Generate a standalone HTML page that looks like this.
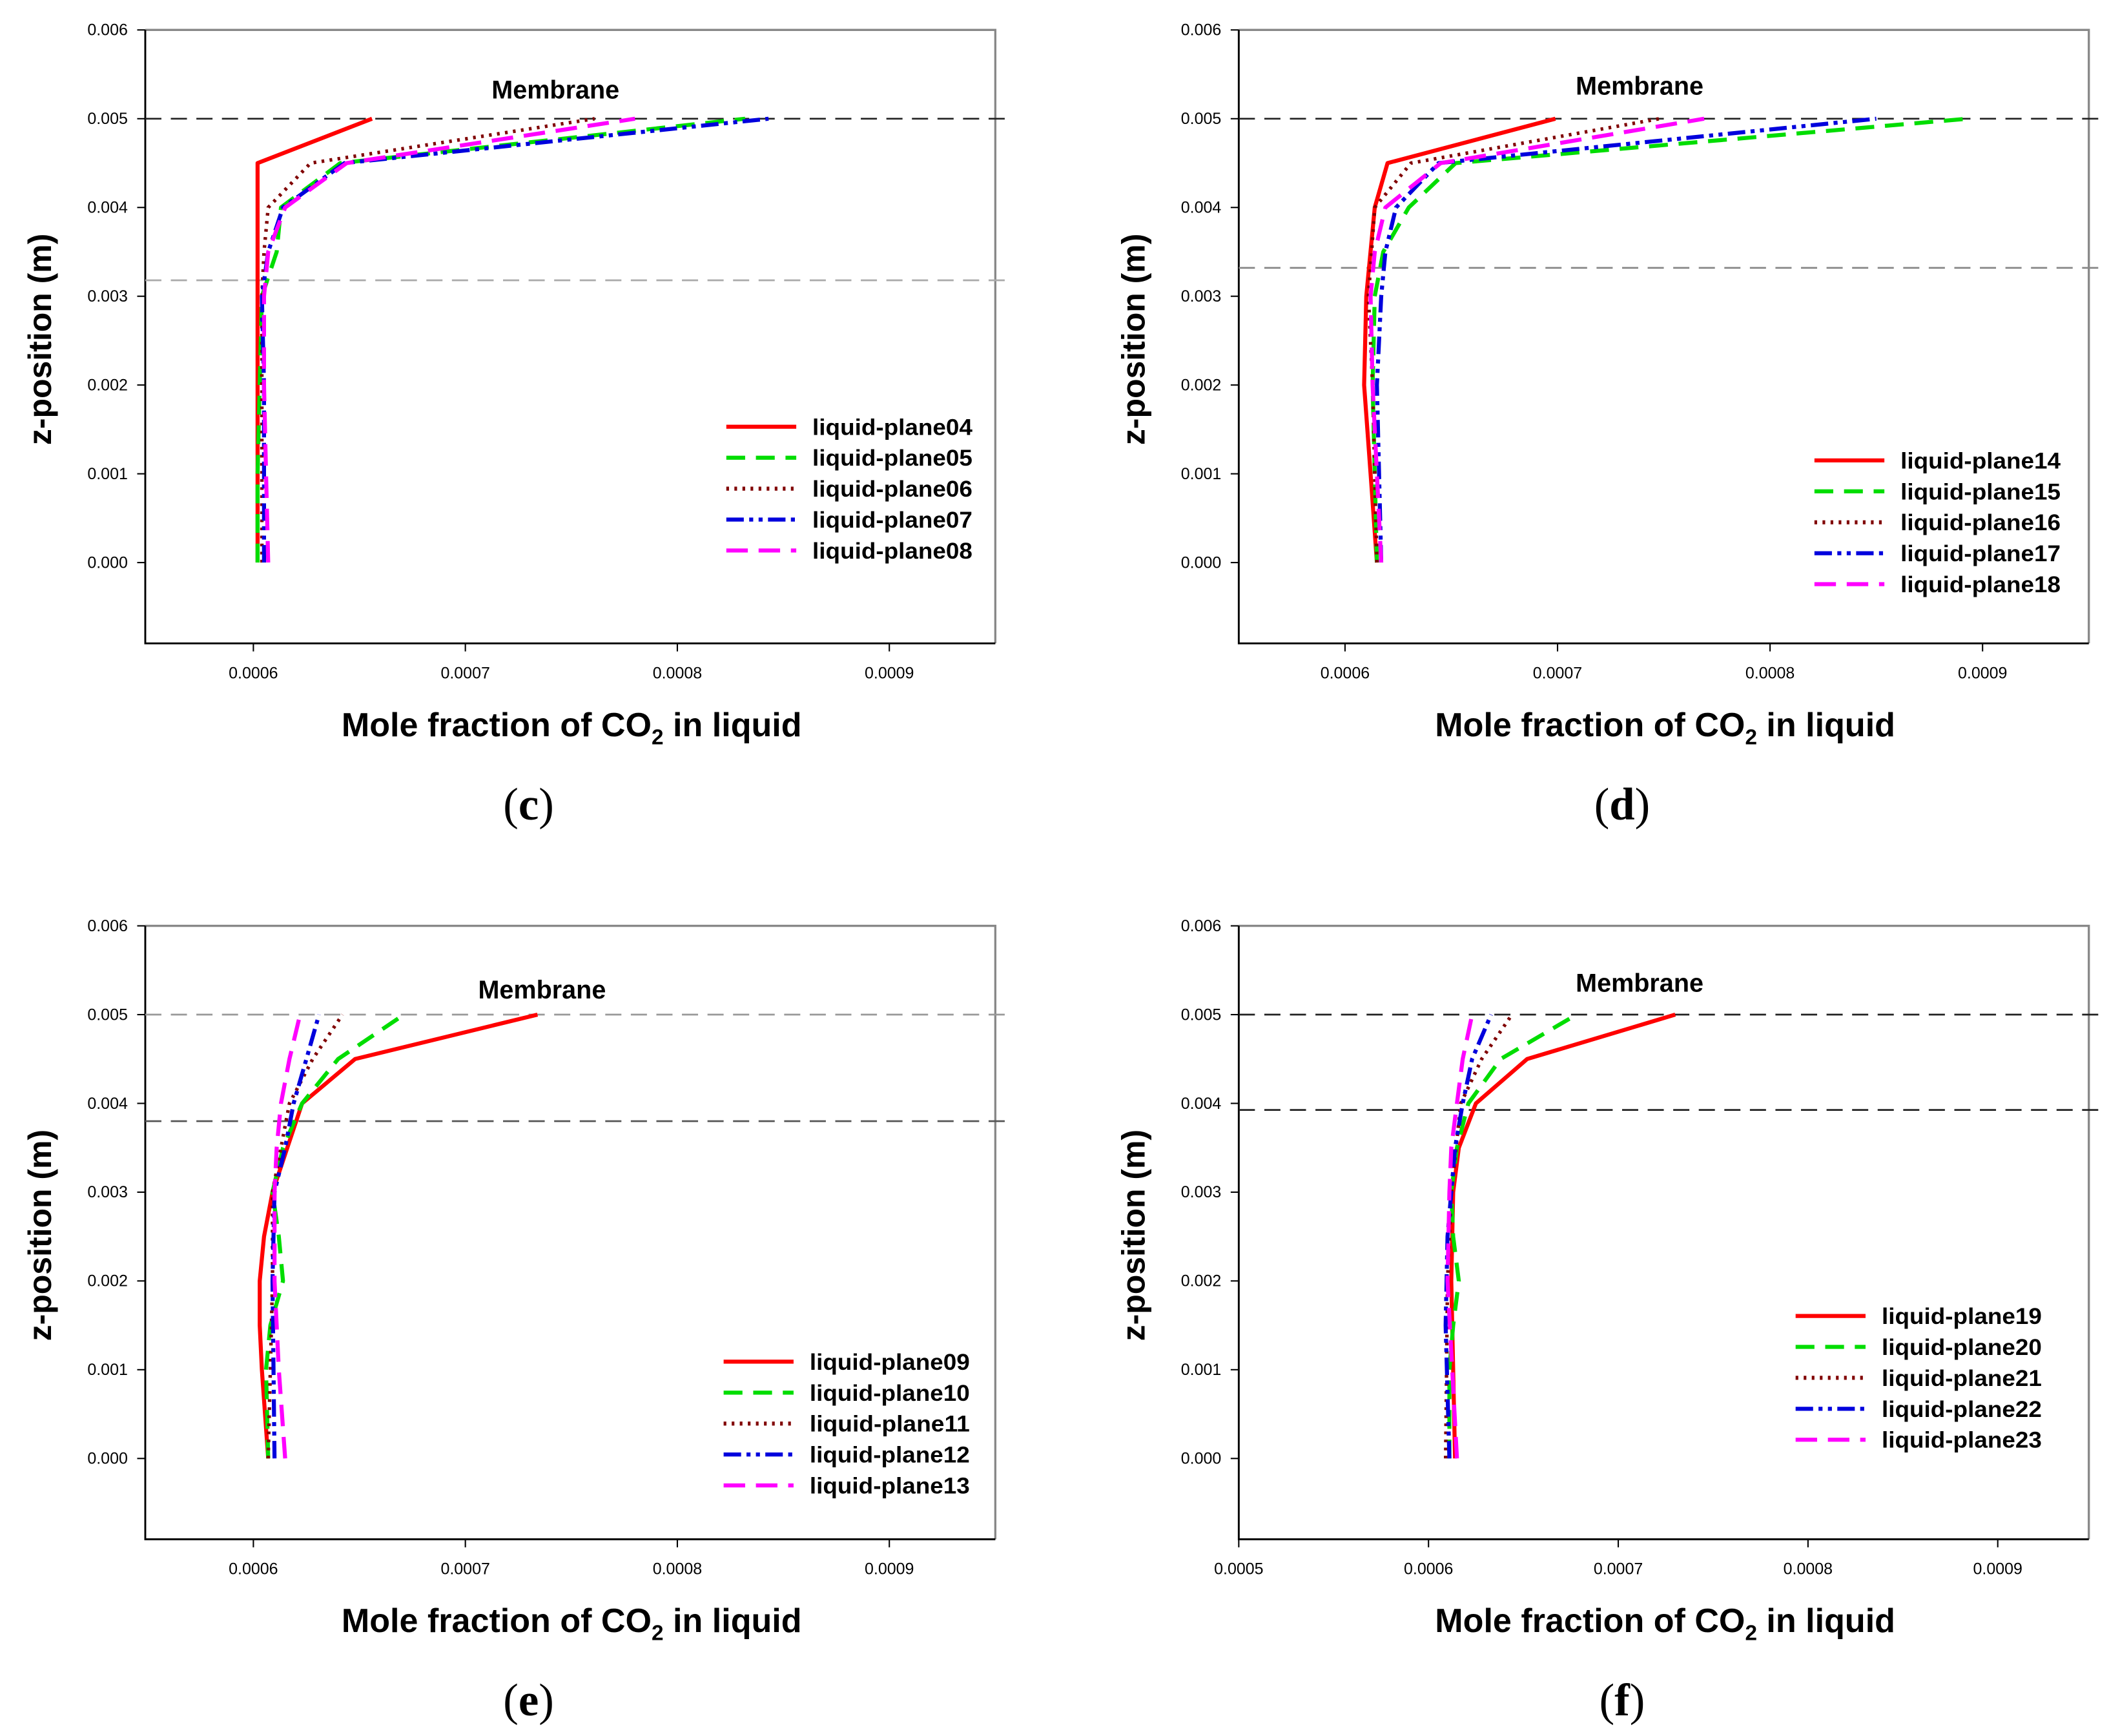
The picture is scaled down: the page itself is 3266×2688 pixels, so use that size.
<!DOCTYPE html>
<html><head><meta charset="utf-8"><style>
html,body{margin:0;padding:0;background:#fff;}
svg{display:block;}
</style></head><body>
<svg id="fig" width="3266" height="2688" viewBox="0 0 1568 1290" xmlns="http://www.w3.org/2000/svg" font-family="Liberation Sans, Arial, sans-serif"></svg>
<script>
// ---- data ----
const yTicks = [0, 0.001, 0.002, 0.003, 0.004, 0.005, 0.006];
const yTickLabels = ["0.000","0.001","0.002","0.003","0.004","0.005","0.006"];
const xTicksCDE = [0.0006, 0.0007, 0.0008, 0.0009];
const xTickLabelsCDE = ["0.0006","0.0007","0.0008","0.0009"];
const xTicksF = [0.0005, 0.0006, 0.0007, 0.0008, 0.0009];
const xTickLabelsF = ["0.0005","0.0006","0.0007","0.0008","0.0009"];

const namesC = ["liquid-plane04","liquid-plane05","liquid-plane06","liquid-plane07","liquid-plane08"];
const zC = [
 [0,0.0045,0.005],
 [0,0.001,0.002,0.003,0.0035,0.004,0.0045,0.005],
 [0,0.002,0.003,0.0035,0.004,0.0045,0.005],
 [0,0.001,0.002,0.003,0.0035,0.004,0.0045,0.005],
 [0,0.001,0.002,0.003,0.0035,0.004,0.0045,0.005]];
const xC = [
 [0.000602,0.000602,0.000656],
 [0.000602,0.000602,0.000603,0.000604,0.000611,0.000613,0.000641,0.000832],
 [0.000604,0.000604,0.000604,0.000605,0.000607,0.000627,0.000761],
 [0.000605,0.000605,0.000605,0.000604,0.000607,0.000614,0.000643,0.000843],
 [0.000607,0.000606,0.000605,0.000605,0.000607,0.000615,0.000644,0.000780]];

const namesD = ["liquid-plane14","liquid-plane15","liquid-plane16","liquid-plane17","liquid-plane18"];
const zD = [
 [0,0.001,0.002,0.003,0.004,0.0045,0.005],
 [0,0.001,0.002,0.003,0.0035,0.004,0.0045,0.005],
 [0,0.002,0.003,0.004,0.0045,0.005],
 [0,0.001,0.002,0.003,0.0035,0.004,0.0045,0.005],
 [0,0.001,0.002,0.003,0.0035,0.004,0.0045,0.005]];
const xD = [
 [0.000615,0.000612,0.000609,0.000610,0.000614,0.000620,0.000699],
 [0.000615,0.000614,0.000613,0.000614,0.000618,0.000630,0.000652,0.000893],
 [0.000615,0.000613,0.000611,0.000614,0.000631,0.000748],
 [0.000617,0.000616,0.000615,0.000617,0.000619,0.000624,0.000644,0.000850],
 [0.000617,0.000615,0.000613,0.000612,0.000614,0.000619,0.000645,0.000769]];

const namesE = ["liquid-plane09","liquid-plane10","liquid-plane11","liquid-plane12","liquid-plane13"];
const zE = [
 [0,0.001,0.0015,0.002,0.0025,0.003,0.0035,0.004,0.0045,0.005],
 [0,0.001,0.0015,0.002,0.0025,0.003,0.0035,0.004,0.0045,0.005],
 [0,0.002,0.003,0.004,0.0045,0.005],
 [0,0.002,0.003,0.0035,0.004,0.0045,0.005],
 [0,0.001,0.002,0.003,0.0035,0.004,0.0045,0.005]];
const xE = [
 [0.000607,0.000604,0.000603,0.000603,0.000605,0.000609,0.000616,0.000623,0.000648,0.000734],
 [0.000607,0.000606,0.000608,0.000614,0.000612,0.000609,0.000614,0.000623,0.000640,0.000671],
 [0.000607,0.000609,0.000609,0.000617,0.000628,0.000642],
 [0.000610,0.000609,0.000610,0.000615,0.000619,0.000625,0.000631],
 [0.000615,0.000612,0.000610,0.000610,0.000611,0.000613,0.000617,0.000622]];

const namesF = ["liquid-plane19","liquid-plane20","liquid-plane21","liquid-plane22","liquid-plane23"];
const zF = [
 [0,0.001,0.002,0.003,0.0035,0.004,0.0045,0.005],
 [0,0.001,0.0015,0.002,0.0025,0.003,0.0035,0.004,0.0045,0.005],
 [0,0.002,0.003,0.004,0.0045,0.005],
 [0,0.0015,0.0025,0.003,0.0035,0.004,0.0045,0.005],
 [0,0.002,0.003,0.0035,0.004,0.0045,0.005]];
const xF = [
 [0.000614,0.000613,0.000612,0.000613,0.000616,0.000625,0.000652,0.000730],
 [0.000611,0.000611,0.000613,0.000616,0.000613,0.000612,0.000615,0.000621,0.000638,0.000678],
 [0.000609,0.000610,0.000612,0.000617,0.000628,0.000644],
 [0.000611,0.000609,0.000610,0.000612,0.000614,0.000618,0.000623,0.000633],
 [0.000615,0.000610,0.000611,0.000612,0.000615,0.000618,0.000623]];

const refLines = [[0.005,0.00318],[0.005,0.00332],[0.005,0.0038],[0.005,0.003926]];
// ---- drawing ----
const NS="http://www.w3.org/2000/svg";
const svg=document.getElementById('fig');
function mk(tag,attrs,parent){const e=document.createElementNS(NS,tag);for(const k in attrs)e.setAttribute(k,attrs[k]);(parent||svg).appendChild(e);return e;}
const styles=[
 {stroke:"#ff0000",dash:"none"},
 {stroke:"#00dd00",dash:"14 8"},
 {stroke:"#800000",dash:"2 4"},
 {stroke:"#0000dd",dash:"13 4 3 4 3 4"},
 {stroke:"#ff00ff",dash:"16 8"}];

const panels=[
 {id:"c",L:108,R:740,T:22,B:478,x0:0.000549,x1:0.00095,xt:xTicksCDE,xl:xTickLabelsCDE,names:namesC,zs:zC,xs:xC,leg:[540,317],mem:[413,67],ref:refLines[0],refCol:["#222","#aaa"]},
 {id:"d",L:921,R:1553,T:22,B:478,x0:0.00055,x1:0.00095,xt:xTicksCDE,xl:xTickLabelsCDE,names:namesD,zs:zD,xs:xD,leg:[1349,342],mem:[1219,64],ref:refLines[1],refCol:["#222","#888"]},
 {id:"e",L:108,R:740,T:688,B:1144,x0:0.000549,x1:0.00095,xt:xTicksCDE,xl:xTickLabelsCDE,names:namesE,zs:zE,xs:xE,leg:[538,1012],mem:[403,736],ref:refLines[2],refCol:["#999","#555"]},
 {id:"f",L:921,R:1553,T:688,B:1144,x0:0.0005,x1:0.000948,xt:xTicksF,xl:xTickLabelsF,names:namesF,zs:zF,xs:xF,leg:[1335,978],mem:[1219,731],ref:refLines[3],refCol:["#222","#222"]}];

panels.forEach(p=>{
 const g=mk('g',{});
 
 
 const yTop=0.006,yBot=-0.00091;
 const sx=v=>p.L+(v-p.x0)/(p.x1-p.x0)*(p.R-p.L);
 const sy=v=>p.T+(yTop-v)/(yTop-yBot)*(p.B-p.T);
 const fr=mk('path',{d:`M${p.L},${p.T}H${p.R}V${p.B}`,fill:"none",stroke:"#888","stroke-width":1.6},g);
 
 
 const ax=mk('path',{d:`M${p.L},${p.T}V${p.B}H${p.R}`,fill:"none",stroke:"#000","stroke-width":1.4},g);
 
 
 yTicks.forEach((t,i)=>{
  mk('line',{x1:p.L-6,x2:p.L,y1:sy(t),y2:sy(t),stroke:"#000","stroke-width":1},g);
  const tx=mk('text',{x:p.L-13,y:sy(t)+4,"text-anchor":"end","font-size":12},g);
  tx.textContent=yTickLabels[i];
  
  
 });
 p.xt.forEach((t,i)=>{
  mk('line',{x1:sx(t),x2:sx(t),y1:p.B,y2:p.B+6,stroke:"#000","stroke-width":1},g);
  const tx=mk('text',{x:sx(t),y:p.B+26,"text-anchor":"middle","font-size":12},g);
  tx.textContent=p.xl[i];
  
  
 });
 p.ref.forEach((r,i)=>{
  const l=mk('line',{x1:p.L,x2:p.R+14,y1:sy(r),y2:sy(r),stroke:p.refCol[i],"stroke-width":1.3,"stroke-dasharray":"12 7"},g);
  
  
 });
 const mem=mk('text',{x:p.mem[0],y:p.mem[1]+6,"text-anchor":"middle","font-size":19,"font-weight":"bold"},g);
 mem.textContent="Membrane";
 
 
 p.names.forEach((n,i)=>{
  const pts=p.zs[i].map((z,j)=>sx(p.xs[i][j]).toFixed(1)+","+sy(z).toFixed(1)).join(" ");
  const pl=mk('polyline',{points:pts,fill:"none",stroke:styles[i].stroke,"stroke-width":i==2?2.6:3,"stroke-dasharray":styles[i].dash,"stroke-linejoin":"round"},g);
  
  
  const ly=p.leg[1]+i*23;
  const ll=mk('line',{x1:p.leg[0],x2:p.leg[0]+52,y1:ly,y2:ly,stroke:styles[i].stroke,"stroke-width":3,"stroke-dasharray":styles[i].dash},g);
  
  
  const lt=mk('text',{x:p.leg[0]+64,y:ly+6,"font-size":17,"font-weight":"bold",textLength:119,lengthAdjust:"spacingAndGlyphs"},g);
  lt.textContent=n;
  
  
 });
 const cx=(p.L+p.R)/2;
 const xt=mk('text',{x:cx+1,y:p.B+69,"text-anchor":"middle","font-size":25,"font-weight":"bold"},g);
 xt.innerHTML='Mole fraction of CO<tspan font-size="16" dy="6">2</tspan><tspan dy="-6"> in liquid</tspan>';
 
 
 const yc=(p.T+p.B)/2+2;
 const yt=mk('text',{x:p.L-70,y:yc,"text-anchor":"middle","font-size":24,"font-weight":"bold",transform:`rotate(-90 ${p.L-70} ${yc})`},g);
 yt.textContent="z-position (m)";
 
 
 const cap=mk('text',{x:cx-31,y:p.B+131,"text-anchor":"middle","font-size":34,"font-family":"Liberation Serif, serif"},g);
 cap.innerHTML='(<tspan font-weight="bold">'+p.id+'</tspan>)';
 
 
});
</script>
</body></html>
